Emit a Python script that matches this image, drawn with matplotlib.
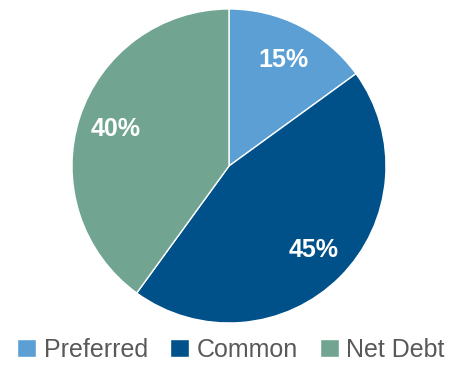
import matplotlib.pyplot as plt

labels = ["Preferred", "Common", "Net Debt"]
shares = [15, 45, 40]
colors = ["#5B9FD4", "#00508A", "#71A591"]

plt.rcParams['font.family'] = ['Liberation Sans', 'DejaVu Sans']

fig = plt.figure(figsize=(4.62, 3.68), dpi=100)
ax = fig.add_axes([0.1558, 0.1223, 0.6797, 0.8533])

wedges, texts, autotexts = ax.pie(
    shares, colors=colors, startangle=90, counterclock=False,
    autopct='%d%%', pctdistance=0.76,
    wedgeprops=dict(edgecolor='white', linewidth=1))
for t in autotexts:
    t.set_color('white')
    t.set_fontsize(18)
    t.set_fontweight('bold')
ax.set_xlim(-1, 1)
ax.set_ylim(-1, 1)
ax.set_aspect('equal')

fig.legend(wedges, labels, loc='lower center', bbox_to_anchor=(0.5, -0.045),
           ncol=3, frameon=False, fontsize=18, labelcolor='#595959',
           handlelength=0.75, handleheight=0.75, handletextpad=0.3,
           columnspacing=0.9)

fig.savefig('out.png', dpi=100)
